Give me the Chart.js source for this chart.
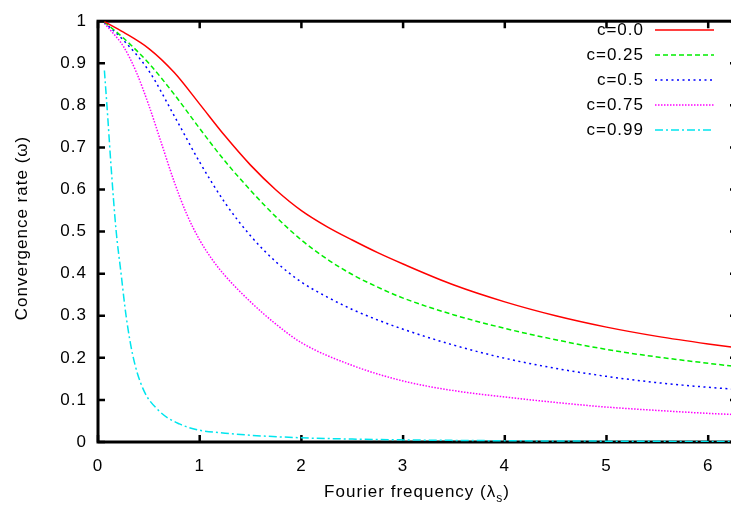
<!DOCTYPE html>
<html>
<head>
<meta charset="utf-8">
<script src="https://cdn.jsdelivr.net/npm/chart.js@4.4.0/dist/chart.umd.min.js"></script>
<style>
    html, body { margin: 0; padding: 0; background: #fff; overflow: hidden; }
    #wrap { width: 745px; height: 506px; }
</style>
</head>
<body>
<div id="wrap"><canvas id="chart" width="745" height="506"></canvas></div>
<script>
// --- Datos ---
const freqX = [0.063, 0.25, 0.5, 0.75, 1, 1.25, 1.5, 1.75, 2, 2.25, 2.5, 2.75, 3, 3.5, 4, 4.5, 5, 5.5, 6, 6.283];
const rateC000 = [0.999, 0.974, 0.935, 0.878, 0.803, 0.727, 0.658, 0.599, 0.550, 0.512, 0.480, 0.450, 0.423, 0.373, 0.333, 0.300, 0.273, 0.251, 0.233, 0.224];
const rateC025 = [0.998, 0.960, 0.900, 0.826, 0.745, 0.667, 0.598, 0.535, 0.480, 0.435, 0.398, 0.368, 0.342, 0.302, 0.270, 0.243, 0.220, 0.202, 0.187, 0.179];
const rateC050 = [0.997, 0.955, 0.882, 0.775, 0.665, 0.568, 0.490, 0.428, 0.380, 0.345, 0.315, 0.290, 0.268, 0.230, 0.199, 0.175, 0.156, 0.141, 0.130, 0.125];

const freqX075 = [0.063, 0.125, 0.25, 0.375, 0.5, 0.625, 0.75, 0.875, 1, 1.125, 1.25, 1.5, 1.75, 2, 2.5, 3, 3.5, 4, 4.5, 5, 5.5, 6, 6.283];
const rateC075 = [0.995, 0.978, 0.940, 0.880, 0.800, 0.709, 0.618, 0.540, 0.480, 0.433, 0.395, 0.333, 0.280, 0.236, 0.182, 0.145, 0.122, 0.107, 0.094, 0.083, 0.075, 0.068, 0.065];

const freqX099 = [0.063, 0.095, 0.127, 0.177, 0.227, 0.276, 0.342, 0.44, 0.6, 0.8, 1, 1.25, 1.5, 2, 2.5, 3, 4, 5, 6.283];
const rateC099 = [0.883, 0.775, 0.66, 0.505, 0.40, 0.30, 0.206, 0.128, 0.074, 0.043, 0.028, 0.021, 0.016, 0.010, 0.007, 0.005, 0.003, 0.002, 0.001];

const seriesLabels = ["c=0.0", "c=0.25", "c=0.5", "c=0.75", "c=0.99"];
const xTicks = [0, 1, 2, 3, 4, 5, 6];
const yTicks = [0, 0.1, 0.2, 0.3, 0.4, 0.5, 0.6, 0.7, 0.8, 0.9, 1];
const xMax = 6.2832;

const xTitle = "Fourier frequency (λ";
const xTitleSub = "s";
const yTitle = "Convergence rate (ω)";

const FONT = "'Liberation Sans', Arial, sans-serif";

const toPoints = (xs, ys) => xs.map((x, i) => ({ x: x, y: ys[i] }));

// --- Marco, ticks hacia adentro, titulos y leyenda al estilo gnuplot ---
const gnuplotFrame = {
    id: "gnuplotFrame",
    beforeLayout(chart) { chart.ctx.letterSpacing = "1px"; },
    beforeDraw(chart) { chart.ctx.letterSpacing = "1px"; },
    beforeDatasetsDraw(chart) {
        const { ctx, chartArea: a, scales } = chart;
        ctx.save();
        ctx.strokeStyle = "#000";
        ctx.lineWidth = 3;
        ctx.strokeRect(a.left, a.top, a.right - a.left, a.bottom - a.top);
        ctx.lineWidth = 2.5;
        ctx.beginPath();
        yTicks.forEach(v => {
            const y = scales.y.getPixelForValue(v);
            ctx.moveTo(a.left, y); ctx.lineTo(a.left + 7, y);
            ctx.moveTo(a.right, y); ctx.lineTo(a.right - 7, y);
        });
        xTicks.forEach(v => {
            const x = scales.x.getPixelForValue(v);
            ctx.moveTo(x, a.bottom); ctx.lineTo(x, a.bottom - 7);
            ctx.moveTo(x, a.top); ctx.lineTo(x, a.top + 7);
        });
        ctx.stroke();
        ctx.restore();
    },
    afterDraw(chart) {
        const ctx = chart.ctx;
        ctx.save();
        ctx.letterSpacing = "1px";
        ctx.fillStyle = "#000";

        // titulo eje x con subindice
        ctx.font = `17px ${FONT}`;
        ctx.textBaseline = "alphabetic";
        ctx.textAlign = "left";
        const w1 = ctx.measureText(xTitle).width;
        ctx.font = `12px ${FONT}`;
        const w2 = ctx.measureText(xTitleSub).width;
        ctx.font = `17px ${FONT}`;
        const w3 = ctx.measureText(")").width;
        let x0 = 417 - (w1 + w2 + w3) / 2;
        ctx.fillText(xTitle, x0, 497);
        ctx.font = `12px ${FONT}`;
        ctx.fillText(xTitleSub, x0 + w1, 502);
        ctx.font = `17px ${FONT}`;
        ctx.fillText(")", x0 + w1 + w2, 497);

        // titulo eje y
        ctx.save();
        ctx.translate(27, 228);
        ctx.rotate(-Math.PI / 2);
        ctx.textAlign = "center";
        ctx.fillText(yTitle, 0, 0);
        ctx.restore();

        // leyenda
        ctx.textAlign = "right";
        ctx.textBaseline = "middle";
        chart.data.datasets.forEach((ds, i) => {
            const y = 30 + 25 * i;
            ctx.fillText(ds.label, 644, y);
            ctx.strokeStyle = ds.borderColor;
            ctx.lineWidth = 1.5;
            ctx.setLineDash(ds.borderDash || []);
            ctx.beginPath();
            ctx.moveTo(655, y);
            ctx.lineTo(714, y);
            ctx.stroke();
        });
        ctx.restore();
    }
};

document.addEventListener("DOMContentLoaded", () => {
    const ctx = document.getElementById("chart").getContext("2d");

    new Chart(ctx, {
        type: "line",
        data: {
            datasets: [
                { label: seriesLabels[0], data: toPoints(freqX, rateC000), borderColor: "#ff0000", borderDash: [] },
                { label: seriesLabels[1], data: toPoints(freqX, rateC025), borderColor: "#00ee00", borderDash: [5, 3] },
                { label: seriesLabels[2], data: toPoints(freqX, rateC050), borderColor: "#0000ff", borderDash: [2, 3.5] },
                { label: seriesLabels[3], data: toPoints(freqX075, rateC075), borderColor: "#ff00ff", borderDash: [1.5, 1.5] },
                { label: seriesLabels[4], data: toPoints(freqX099, rateC099), borderColor: "#00e5ee", borderDash: [8, 3, 2, 3] }
            ]
        },
        options: {
            responsive: false,
            animation: false,
            devicePixelRatio: 1,
            layout: { padding: { top: 11, right: 8, left: 0, bottom: 0 } },
            plugins: { legend: { display: false }, tooltip: { enabled: false } },
            elements: {
                point: { radius: 0 },
                line: { borderWidth: 1.5, cubicInterpolationMode: "monotone", fill: false }
            },
            scales: {
                x: {
                    type: "linear", min: 0, max: xMax,
                    afterBuildTicks: s => { s.ticks = xTicks.map(v => ({ value: v })); },
                    afterFit: s => { s.height = 64; },
                    grid: { display: false, drawTicks: false },
                    border: { display: false },
                    ticks: { color: "#000", padding: 14, maxRotation: 0, autoSkip: false, font: { family: FONT, size: 17 } }
                },
                y: {
                    type: "linear", min: 0, max: 1,
                    afterBuildTicks: s => { s.ticks = yTicks.map(v => ({ value: v })); },
                    afterFit: s => { s.width = 98; },
                    grid: { display: false, drawTicks: false },
                    border: { display: false },
                    ticks: { color: "#000", padding: 11, autoSkip: false, font: { family: FONT, size: 17 }, callback: v => String(v) }
                }
            }
        },
        plugins: [gnuplotFrame]
    });
});
</script>
</body>
</html>
